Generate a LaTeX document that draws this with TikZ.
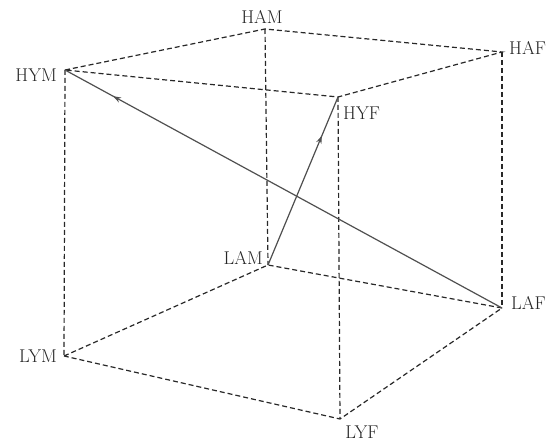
\documentclass[tikz,border=0pt]{standalone}
\usepackage{xcolor}
\usepackage{tikz}
\usetikzlibrary{arrows.meta,decorations.markings}
\definecolor{CubeInk}{RGB}{40,40,40}
\definecolor{PathGray}{RGB}{80,80,80}

\begin{document}
\begin{tikzpicture}[x=1pt,y=-1pt,
    edge/.style={CubeInk,line width=1.2pt,dash pattern=on 5pt off 3pt},
    lbl/.style={text=black!85,font=\fontsize{18.5}{18.5}\selectfont,inner sep=0pt},
    move/.style={PathGray,line width=1.2pt,postaction={decorate},
                 decoration={markings,mark=at position #1 with {\arrow{Stealth[length=8pt,width=5.5pt]}}}}
  ]
    \useasboundingbox (0,0) rectangle (547,443);
    % corners of the cube
    \coordinate (HAM) at (265,29);
    \coordinate (HAF) at (502,52);
    \coordinate (HYM) at (65,70);
    \coordinate (HYF) at (338,97);
    \coordinate (LAM) at (268,265);
    \coordinate (LAF) at (502,308);
    \coordinate (LYM) at (64,356);
    \coordinate (LYF) at (340,419);
    % labels
    \node[lbl] (tHAM) at (262,17) {HAM};
    \node[lbl,anchor=west] (tHAF) at (509,48) {HAF};
    \node[lbl,anchor=east] (tHYM) at (57,75) {HYM};
    \node[lbl,anchor=west] (tHYF) at (343,113) {HYF};
    \node[lbl,anchor=east] (tLAM) at (263,258) {LAM};
    \node[lbl,anchor=west] (tLAF) at (511,303) {LAF};
    \node[lbl,anchor=east] (tLYM) at (57,356) {LYM};
    \node[lbl] (tLYF) at (362,432) {LYF};
    % edges
    \draw[edge] (HYM)--(HAM)--(HAF)--(HYF)--cycle;
    \draw[edge] (LYM)--(LAM)--(LAF)--(LYF)--cycle;
    \draw[edge] (HYM)--(LYM); \draw[edge] (HAM)--(LAM);
    \draw[edge] (HAF)--(LAF); \draw[edge] (HYF)--(LYF);
    % moves
    \draw[move=0.77] (LAM)--(HYF);
    \draw[move=0.89] (LAF)--(HYM);
  \end{tikzpicture}
\end{document}
